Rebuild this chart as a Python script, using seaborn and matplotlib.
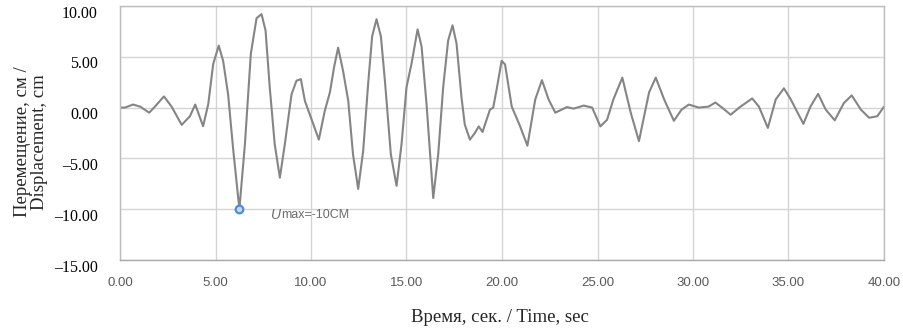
import matplotlib
matplotlib.use("Agg")
import matplotlib.pyplot as plt
import matplotlib.transforms as mtransforms
import seaborn as sns
import pandas as pd

# ---- data ----
time_s = [0, 0.26, 0.68, 1.05, 1.53, 1.83, 2.3, 2.7, 3.23, 3.66,
          3.94, 4.35, 4.62, 4.88, 5.17, 5.4, 5.66, 5.92, 6.25, 6.54,
          6.85, 7.15, 7.41, 7.62, 7.84, 8.1, 8.37, 8.63, 8.98, 9.24,
          9.47, 9.68, 10.03, 10.41, 10.72, 10.99, 11.21, 11.42, 11.68, 11.95,
          12.2, 12.47, 12.73, 12.99, 13.2, 13.43, 13.66, 13.87, 14.18, 14.48,
          14.74, 15.0, 15.26, 15.58, 15.79, 16.05, 16.4, 16.66, 16.92, 17.18,
          17.41, 17.62, 17.88, 18.05, 18.32, 18.58, 18.78, 18.98, 19.37, 19.54,
          19.72, 19.98, 20.16, 20.51, 20.95, 21.33, 21.74, 22.09, 22.44, 22.79,
          23.4, 23.75, 24.28, 24.72, 25.15, 25.5, 25.83, 26.3, 26.74, 27.17, 27.7,
          28.05, 28.49, 29.0, 29.4, 29.78, 30.3, 30.82, 31.17, 31.52, 31.97,
          32.49, 33.1, 33.45, 33.92, 34.33, 34.76, 35.12, 35.78, 36.15, 36.55,
          36.95, 37.42, 37.9, 38.31, 38.79, 39.22, 39.65, 40.0]
displacement_cm = [0, 0, 0.3, 0.1, -0.5, 0.1, 1.1, 0.1, -1.7, -0.85,
                   0.3, -1.83, 0.33, 4.3, 6.1, 4.6, 1.3, -4.0, -10.0, -3.6,
                   5.3, 8.8, 9.2, 7.6, 2.0, -3.6, -6.9, -3.6, 1.3, 2.65,
                   2.8, 0.66, -1.16, -3.15, -0.33, 1.5, 4.0, 5.9, 3.6, 0.66,
                   -4.6, -8.0, -4.3, 2.3, 7.0, 8.7, 7.0, 2.65, -4.6, -7.7,
                   -3.6, 2.0, 4.3, 7.7, 6.0, 0.33, -8.9, -4.6, 2.0, 6.6,
                   8.1, 6.3, 1.0, -1.66, -3.15, -2.5, -1.85, -2.4, -0.2, 0.0,
                   1.8, 4.6, 4.25, 0.1, -1.85, -3.75, 0.8, 2.7, 0.8, -0.5,
                   0.05, -0.1, 0.2, 0.0, -1.85, -1.2, 0.8, 2.95, -0.5, -3.3, 1.5,
                   2.95, 0.8, -1.3, -0.2, 0.3, 0.0, 0.1, 0.5, 0.0, -0.7,
                   0.1, 0.9, 0.1, -2.0, 0.8, 1.9, 0.8, -1.6, 0.1, 1.35,
                   -0.2, -1.25, 0.45, 1.2, -0.2, -1.0, -0.85, 0.1]
umax_time = [6.25]
umax_value = [-10.0]
x_ticks = [0, 5, 10, 15, 20, 25, 30, 35, 40]
y_ticks = [-15, -10, -5, 0, 5, 10]
x_tick_labels = ["0.00", "5.00", "10.00", "15.00", "20.00", "25.00", "30.00", "35.00", "40.00"]
y_tick_labels = ["\u201315.00", "\u201310.00", "\u20135.00", "0.00", "5.00", "10.00"]
ylabel_text = "Перемещение, см /\nDisplacement, cm"
xlabel_text = "Время, сек. / Time, sec"
annot_u = "U"
annot_rest = "max=-10CM"

df = pd.DataFrame({"t": time_s, "u": displacement_cm})

sns.set_theme(style="white")
serif = ["Liberation Serif", "DejaVu Serif"]
narrow = ["Liberation Sans Narrow", "Liberation Sans", "DejaVu Sans"]

fig = plt.figure(figsize=(9.04, 3.31), dpi=100)
ax = fig.add_axes([120 / 904, 1 - 260 / 331, 764 / 904, 254 / 331])

sns.lineplot(data=df, x="t", y="u", ax=ax, color="#858585", linewidth=1.5,
             sort=False, estimator=None)
ax.plot(umax_time, umax_value, "o", ms=5.5, mfc="#c9d9ec", mec="#4a8fd8", mew=1.6,
        zorder=5)

ax.set_xlim(0, 40)
ax.set_ylim(-15, 10)
ax.set_xticks(x_ticks)
ax.set_yticks(y_ticks)
ax.set_xticklabels(x_tick_labels, family=narrow, fontsize=9.5, color="#595959")
ax.set_yticklabels(y_tick_labels, family=serif, fontsize=11.5, color="black")
ax.tick_params(axis="x", length=0, pad=12)
ax.tick_params(axis="y", length=0, pad=16)
shift = mtransforms.ScaledTranslation(0, -4 / 72, fig.dpi_scale_trans)
for lab in ax.get_yticklabels():
    lab.set_transform(lab.get_transform() + shift)
ax.set_xlabel("")
ax.set_ylabel("")

ax.grid(True, color="#d4d4d4", linewidth=1.0)
ax.set_axisbelow(True)
for name, sp in ax.spines.items():
    sp.set_visible(True)
    sp.set_color("#bdbdbd")
    sp.set_linewidth(1.0)
ax.spines["bottom"].set_color("#a8a8a8")

t1 = ax.text(7.9, -10.55, annot_u, family=narrow, style="italic", fontsize=10,
             color="#6b6b6b", va="center", ha="left")
ax.annotate(annot_rest, xy=(1.0, 0.5), xycoords=t1, va="center", ha="left",
            family=narrow, fontsize=9, color="#6b6b6b")

fig.text(31 / 904, 1 - 142 / 331, ylabel_text, rotation=90, ha="center", va="center",
         family=serif, fontsize=13.5, multialignment="center", linespacing=0.95)
fig.text(500 / 904, 1 - 317 / 331, xlabel_text, ha="center", va="center",
         family=serif, fontsize=13.5)

fig.savefig("out.png", dpi=100)
